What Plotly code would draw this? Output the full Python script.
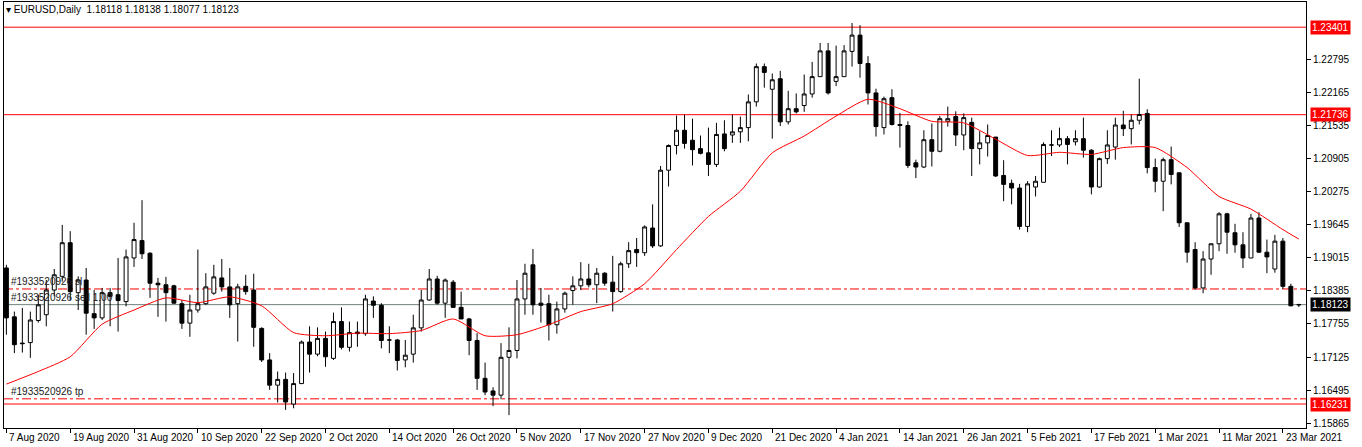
import plotly.graph_objects as go

# EURUSD daily bars, 7 Aug 2020 .. 25 Mar 2021 (no bars on 25 Dec / 1 Jan)
opens = [1.1882,1.1789,1.1739,1.1740,1.1782,1.1793,1.1840,1.1866,1.1930,1.1835,
         1.1859,1.1795,1.1787,1.1835,1.1831,1.1818,1.1901,1.1934,1.1910,1.1853,
         1.1850,1.1848,1.1814,1.1777,1.1802,1.1814,1.1834,1.1863,1.1846,1.1814,
         1.1847,1.1840,1.1767,1.1707,1.1659,1.1670,1.1623,1.1662,1.1741,1.1718,
         1.1748,1.1710,1.1780,1.1731,1.1760,1.1757,1.1819,1.1811,1.1745,1.1745,
         1.1707,1.1718,1.1768,1.1821,1.1861,1.1815,1.1855,1.1807,1.1785,1.1744,
         1.1672,1.1648,1.1640,1.1712,1.1725,1.1823,1.1888,1.1815,1.1814,1.1774,
         1.1804,1.1839,1.1848,1.1861,1.1850,1.1872,1.1855,1.1837,1.1890,1.1917,
         1.1911,1.1958,1.1924,1.2068,1.2115,1.2144,1.2125,1.2109,1.2101,1.2079,
         1.2137,1.2135,1.2141,1.2149,1.2198,1.2265,1.2222,1.2242,1.2160,1.2185,
         1.2191,1.2213,1.2246,1.2295,1.2237,1.2246,1.2294,1.2325,1.2271,1.2215,
         1.2149,1.2206,1.2155,1.2153,1.2082,1.2074,1.2126,1.2104,1.2161,1.2170,
         1.2135,1.2159,1.2109,1.2120,1.2131,1.2058,1.2043,1.2034,1.1961,1.2036,
         1.2045,1.2116,1.2116,1.2128,1.2122,1.2128,1.2106,1.2036,1.2090,1.2112,
         1.2154,1.2147,1.2163,1.2176,1.2073,1.2047,1.2088,1.2063,1.1968,1.1917,
         1.1844,1.1899,1.1928,1.1985,1.1949,1.1926,1.1901,1.1977,1.1912,1.1880,
         1.1933,1.1847,1.18118]
highs = [1.1888,1.1799,1.1806,1.1799,1.1831,1.1859,1.1880,1.1964,1.1952,1.1866,
         1.1882,1.1840,1.1844,1.1844,1.1901,1.1917,1.1968,1.2011,1.1912,1.1863,
         1.1865,1.1850,1.1821,1.1831,1.1917,1.1872,1.1888,1.1899,1.1882,1.1852,
         1.1869,1.1871,1.1769,1.1720,1.1685,1.1683,1.1682,1.1744,1.1771,1.1769,
         1.1761,1.1797,1.1807,1.1780,1.1780,1.1831,1.1828,1.1815,1.1771,1.1747,
         1.1745,1.1793,1.1840,1.1880,1.1867,1.1862,1.1859,1.1837,1.1787,1.1758,
         1.1702,1.1655,1.1739,1.1769,1.1859,1.1890,1.1918,1.1844,1.1831,1.1818,
         1.1837,1.1866,1.1893,1.1890,1.1882,1.1874,1.1905,1.1894,1.1931,1.1939,
         1.1963,1.2003,1.2076,1.2117,1.2172,1.2174,1.2166,1.2134,1.2149,1.2158,
         1.2163,1.2174,1.2170,1.2212,1.2271,1.2271,1.2252,1.2257,1.2219,1.2214,
         1.2250,1.2274,1.2310,1.2310,1.2305,1.2306,1.2348,1.2344,1.2285,1.2223,
         1.2208,1.2222,1.2177,1.2161,1.2088,1.2144,1.2157,1.2171,1.2189,1.2180,
         1.2176,1.2168,1.2142,1.2155,1.2131,1.2087,1.2050,1.2042,1.2047,1.2057,
         1.2121,1.2144,1.2149,1.2133,1.2144,1.2168,1.2108,1.2092,1.2144,1.2168,
         1.2181,1.2174,1.2242,1.2184,1.2090,1.2092,1.2113,1.2064,1.1968,1.1931,
         1.1914,1.1928,1.1988,1.1987,1.1966,1.1950,1.1985,1.1988,1.1936,1.1945,
         1.1939,1.1852,1.18138]
lows = [1.1755,1.1720,1.1721,1.1711,1.1778,1.1771,1.1828,1.1856,1.1821,1.1802,
        1.1755,1.1766,1.1783,1.1771,1.1761,1.1809,1.1884,1.1899,1.1825,1.1789,
        1.1780,1.1814,1.1766,1.1751,1.1797,1.1812,1.1831,1.1837,1.1787,1.1742,
        1.1831,1.1732,1.1703,1.1650,1.1626,1.1612,1.1615,1.1661,1.1683,1.1714,
        1.1694,1.1707,1.1727,1.1723,1.1732,1.1753,1.1787,1.1729,1.1720,1.1687,
        1.1693,1.1702,1.1761,1.1820,1.1812,1.1787,1.1806,1.1785,1.1716,1.1650,
        1.1640,1.1619,1.1632,1.1602,1.1710,1.1793,1.1793,1.1778,1.1744,1.1757,
        1.1797,1.1812,1.1840,1.1845,1.1815,1.1848,1.1799,1.1835,1.1882,1.1884,
        1.1905,1.1920,1.1922,1.2037,1.2098,1.2109,1.2077,1.2098,1.2057,1.2074,
        1.2104,1.2120,1.2120,1.2123,1.2189,1.2225,1.2128,1.2152,1.2155,1.2176,
        1.2179,1.2206,1.2246,1.2212,1.2228,1.2246,1.2265,1.2244,1.2193,1.2132,
        1.2136,1.2153,1.2111,1.2072,1.2053,1.2072,1.2075,1.2102,1.2151,1.2114,
        1.2106,1.2057,1.2079,1.2094,1.2055,1.2009,1.2003,1.1955,1.1950,1.2018,
        1.2045,1.2095,1.2112,1.2079,1.2115,1.2092,1.2022,1.2035,1.2080,1.2088,
        1.2133,1.2117,1.2155,1.2062,1.2026,1.1990,1.2041,1.1960,1.1892,1.1841,
        1.1834,1.1869,1.1914,1.1909,1.1911,1.1882,1.1901,1.1911,1.1872,1.1873,
        1.1842,1.1809,1.18077]
closes = [1.1787,1.1736,1.1738,1.1783,1.1812,1.1840,1.1869,1.1930,1.1837,1.1859,
          1.1796,1.1787,1.1835,1.1828,1.1820,1.1903,1.1936,1.1909,1.1853,1.1850,
          1.1835,1.1815,1.1777,1.1802,1.1814,1.1846,1.1865,1.1846,1.1812,1.1846,
          1.1837,1.1769,1.1707,1.1659,1.1670,1.1627,1.1662,1.1741,1.1718,1.1748,
          1.1713,1.1780,1.1731,1.1759,1.1757,1.1823,1.1811,1.1744,1.1745,1.1706,
          1.1716,1.1768,1.1821,1.1861,1.1815,1.1859,1.1807,1.1785,1.1744,1.1672,
          1.1646,1.1640,1.1712,1.1725,1.1823,1.1872,1.1812,1.1811,1.1774,1.1804,
          1.1834,1.1848,1.1861,1.1850,1.1872,1.1853,1.1837,1.1890,1.1915,1.1911,
          1.1960,1.1924,1.2068,1.2115,1.2144,1.2119,1.2107,1.2100,1.2079,1.2136,
          1.2109,1.2141,1.2149,1.2198,1.2265,1.2254,1.2240,1.2160,1.2185,1.2179,
          1.2213,1.2246,1.2295,1.2215,1.2246,1.2295,1.2325,1.2271,1.2215,1.2151,
          1.2204,1.2155,1.2153,1.2077,1.2074,1.2126,1.2104,1.2166,1.2166,1.2135,
          1.2168,1.2109,1.2120,1.2134,1.2057,1.2041,1.2034,1.1961,1.2042,1.2047,
          1.2117,1.2116,1.2128,1.2117,1.2128,1.2106,1.2036,1.2090,1.2116,1.2154,
          1.2147,1.2163,1.2174,1.2073,1.2047,1.2088,1.2060,1.1968,1.1912,1.1844,
          1.1899,1.1928,1.1985,1.1950,1.1926,1.1901,1.1977,1.1912,1.1903,1.1933,
          1.1847,1.1810,1.18123]

# moving average at every 4th bar
ma_bars = [0,4,8,12,16,20,24,28,32,36,40,44,48,52,56,60,64,68,72,76,80,
           84,88,92,96,100,104,108,112,116,120,124,128,132,136,140,144,148,152,156,160,162]
ma_vals = [1.1661,1.1685,1.1713,1.1775,1.1802,1.1825,1.1816,1.1827,1.1810,1.1759,1.1753,
           1.1758,1.1757,1.1763,1.1785,1.1753,1.1755,1.1774,1.1799,1.1814,1.1852,
           1.1917,1.1980,1.2028,1.2101,1.2133,1.2171,1.2203,1.2185,1.2161,1.2158,
           1.2127,1.2096,1.2102,1.2098,1.2111,1.2111,1.2073,1.2018,1.1994,1.1955,1.1937]

date_labels = ["7 Aug 2020","19 Aug 2020","31 Aug 2020","10 Sep 2020","22 Sep 2020",
               "2 Oct 2020","14 Oct 2020","26 Oct 2020","5 Nov 2020","17 Nov 2020",
               "27 Nov 2020","9 Dec 2020","21 Dec 2020","4 Jan 2021","14 Jan 2021",
               "26 Jan 2021","5 Feb 2021","17 Feb 2021","1 Mar 2021","11 Mar 2021","23 Mar 2021"]
price_ticks = [1.22795,1.22165,1.21535,1.20905,1.20275,1.19645,1.19015,
               1.18385,1.17755,1.17125,1.16495,1.15865]

level_top, level_mid, level_low = 1.23401, 1.21736, 1.16231
sl_level, tp_level, bid = 1.18420, 1.16330, 1.18123

FONT = "Liberation Sans"
x = list(range(len(closes)))

fig = go.Figure()
fig.add_trace(go.Scatter(x=ma_bars, y=ma_vals, mode="lines",
                         line=dict(color="red", width=1, shape="spline", smoothing=0.6),
                         hoverinfo="skip"))
fig.add_trace(go.Candlestick(
    x=x, open=opens, high=highs, low=lows, close=closes,
    increasing=dict(line=dict(color="black", width=1), fillcolor="white"),
    decreasing=dict(line=dict(color="black", width=1), fillcolor="black"),
    whiskerwidth=0))

shapes = []
for lv in (level_top, level_mid, level_low):
    shapes.append(dict(type="line", xref="paper", x0=0, x1=1, y0=lv, y1=lv,
                       line=dict(color="red", width=1), layer="below"))
for lv in (sl_level, tp_level):
    shapes.append(dict(type="line", xref="paper", x0=0, x1=1, y0=lv, y1=lv,
                       line=dict(color="red", width=1, dash="dashdot"), layer="below"))
shapes.append(dict(type="line", xref="paper", x0=0, x1=1, y0=bid, y1=bid,
                   line=dict(color="#44bb44", width=1), layer="below"))
shapes.append(dict(type="line", xref="paper", x0=0, x1=1, y0=bid, y1=bid,
                   line=dict(color="#8a8a9a", width=1), layer="below"))

ann = []
for i, lab in enumerate(date_labels):
    ann.append(dict(x=i * 8, y=0, xref="x", yref="paper", text=lab, showarrow=False,
                    xanchor="left", yanchor="top", xshift=1, yshift=-2,
                    font=dict(family=FONT, size=10, color="black")))
for lv, bg in ((level_top, "red"), (level_mid, "red"), (bid, "black"), (level_low, "red")):
    ann.append(dict(x=1, y=lv, xref="paper", yref="y", text="%.5f" % lv, showarrow=False,
                    xanchor="left", yanchor="middle", xshift=4, bgcolor=bg, borderpad=1,
                    font=dict(family=FONT, size=10, color="white")))
for lv, txt in ((sl_level, "#1933520926 sl"), (bid, "#1933520926 sell 1.00"),
                (tp_level, "#1933520926 tp")):
    ann.append(dict(x=0, y=lv, xref="paper", yref="y", text=txt, showarrow=False,
                    xanchor="left", yanchor="bottom", xshift=5, yshift=0,
                    font=dict(family=FONT, size=10, color="#202020")))
ann.append(dict(x=0, y=1, xref="paper", yref="paper",
                text="▾ EURUSD,Daily  1.18118 1.18138 1.18077 1.18123", showarrow=False,
                xanchor="left", yanchor="top", xshift=0, yshift=0,
                font=dict(family=FONT, size=10, color="black")))

fig.update_layout(
    width=1362, height=447, margin=dict(l=4, r=56, t=2, b=19),
    paper_bgcolor="white", plot_bgcolor="white", showlegend=False,
    shapes=shapes, annotations=ann,
    xaxis=dict(range=[-0.3, 162.9], showgrid=False, zeroline=False,
               showticklabels=False, rangeslider=dict(visible=False),
               tickvals=[i * 8 for i in range(len(date_labels))], ticks="outside",
               ticklen=4, tickcolor="black",
               showline=True, linecolor="black", mirror=True),
    yaxis=dict(range=[1.15775, 1.23880], side="right", showgrid=False, zeroline=False,
               tickvals=price_ticks, ticktext=["%.5f" % v for v in price_ticks],
               ticks="outside", ticklen=4, tickcolor="black",
               tickfont=dict(family=FONT, size=10, color="black"),
               showline=True, linecolor="black", mirror=True),
)

fig.write_html("out.html", config={"displayModeBar": False},
               post_script="document.body.style.margin='0';")
